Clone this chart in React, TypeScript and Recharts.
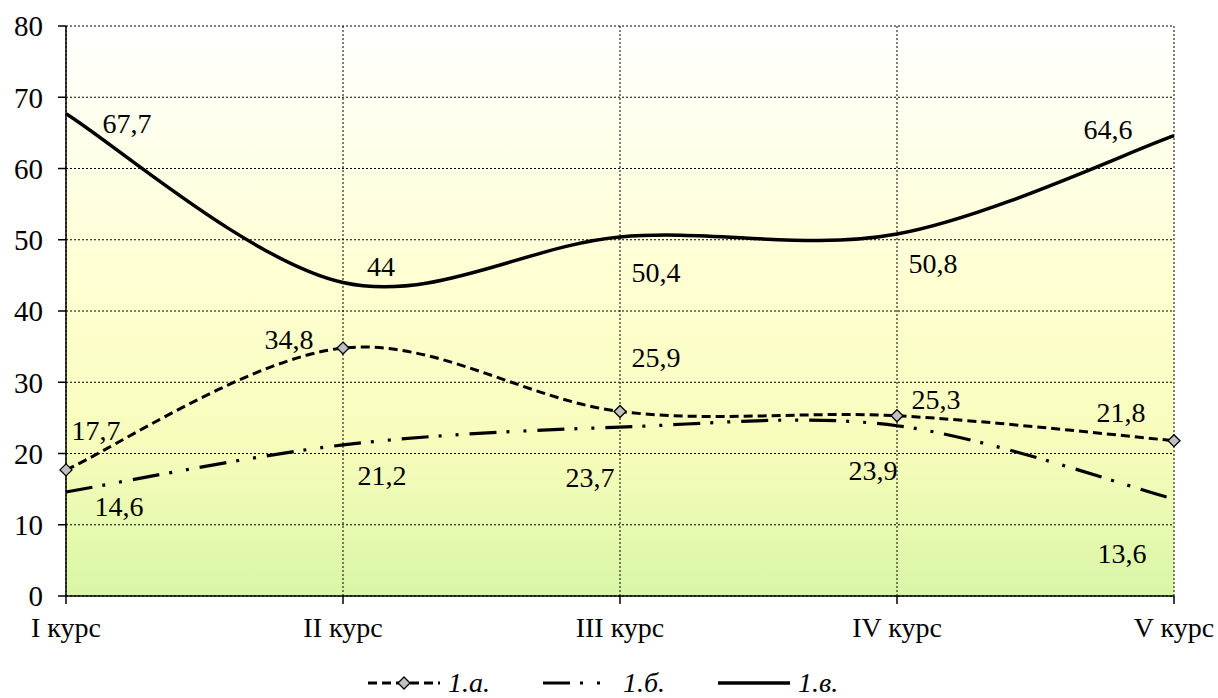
import React from 'react';
import { LineChart, Line, XAxis, YAxis, CartesianGrid, Legend } from 'recharts';

// курсы
const courses = ['I курс', 'II курс', 'III курс', 'IV курс', 'V курс'];
const seriesA = [17.7, 34.8, 25.9, 25.3, 21.8]; // 1.а.
const seriesB = [14.6, 21.2, 23.7, 23.9, 13.6]; // 1.б.
const seriesC = [67.7, 44, 50.4, 50.8, 64.6]; // 1.в.
const yTicks = [0, 10, 20, 30, 40, 50, 60, 70, 80];
const legendNames = ['1.а.', '1.б.', '1.в.'];

const data = courses.map((c, i) => ({ course: c, a: seriesA[i], b: seriesB[i], c: seriesC[i] }));

// смещения подписей от точки
const offA = [[30, -39], [-54, -9], [36, -54], [39, -16], [-53, -28]];
const offB = [[53, 15], [39, 31], [-30, 50], [-24, 45], [-52, 54]];
const offC = [[61, 10], [38, -16], [36, 36], [36, 29], [-66, -6]];

const FONT = "'Liberation Serif', 'Times New Roman', serif";

// сглаживание как в Excel (Catmull-Rom)
const excelSmooth = (context: any) => {
  let pts: number[][] = [];
  return {
    areaStart() {},
    areaEnd() {},
    lineStart() { pts = []; },
    point(x: number, y: number) { pts.push([+x, +y]); },
    lineEnd() {
      if (!pts.length) return;
      context.moveTo(pts[0][0], pts[0][1]);
      for (let i = 0; i < pts.length - 1; i++) {
        const p0 = pts[i - 1] || pts[i];
        const p1 = pts[i];
        const p2 = pts[i + 1];
        const p3 = pts[i + 2] || p2;
        context.bezierCurveTo(
          p1[0] + (p2[0] - p0[0]) / 6, p1[1] + (p2[1] - p0[1]) / 6,
          p2[0] - (p3[0] - p1[0]) / 6, p2[1] - (p3[1] - p1[1]) / 6,
          p2[0], p2[1]
        );
      }
    },
  };
};

const makeLabel = (offsets: number[][]) => (props: any) => {
  const { x, y, value, index } = props;
  const [dx, dy] = offsets[index] || [0, 0];
  return (
    <text x={x + dx} y={y + dy} textAnchor="middle" dominantBaseline="central"
      fontFamily={FONT} fontSize={28} fill="#000">
      {String(value).replace('.', ',')}
    </text>
  );
};

const Diamond = (props: any) => {
  const { cx, cy } = props;
  if (cx == null || cy == null) return null;
  const s = 6;
  return (
    <path d={`M${cx},${cy - s}L${cx + s},${cy}L${cx},${cy + s}L${cx - s},${cy}Z`}
      fill="#C0C0C0" stroke="#000" strokeWidth={1.3} />
  );
};

const LegendContent = () => {
  const item = (i: number) => {
    let sample;
    if (i === 0) {
      sample = (
        <svg width={72} height={30}>
          <line x1={0} y1={15} x2={72} y2={15} stroke="#000" strokeWidth={3} strokeDasharray="9 5" />
          <path d="M36,9L42,15L36,21L30,15Z" fill="#C0C0C0" stroke="#000" strokeWidth={1.3} />
        </svg>
      );
    } else if (i === 1) {
      sample = (
        <svg width={72} height={30}>
          <line x1={0} y1={15} x2={72} y2={15} stroke="#000" strokeWidth={3.2} strokeDasharray="27 10 3 14 3 20" />
        </svg>
      );
    } else {
      sample = (
        <svg width={72} height={30}>
          <line x1={0} y1={15} x2={72} y2={15} stroke="#000" strokeWidth={3.5} />
        </svg>
      );
    }
    return (
      <div key={i} style={{ display: 'flex', alignItems: 'center', width: 175 }}>
        {sample}
        <span style={{ marginLeft: 8, fontStyle: 'italic', fontSize: 28, fontFamily: FONT, lineHeight: '30px' }}>
          {legendNames[i]}
        </span>
      </div>
    );
  };
  return (
    <div style={{ display: 'flex', height: 30, paddingLeft: 368 }}>
      {[0, 1, 2].map(item)}
    </div>
  );
};

export default function App() {
  return (
    <div style={{ position: 'absolute', left: 0, top: 0, width: 1218, height: 698, fontFamily: FONT }}>
      <LineChart width={1218} height={698} data={data}
        margin={{ top: 26, right: 44, left: 0, bottom: 0 }}>
        <defs>
          <linearGradient id="bg" x1="0" y1="0" x2="0" y2="1">
            <stop offset="0%" stopColor="#FFFFFF" />
            <stop offset="45%" stopColor="#FFFFD2" />
            <stop offset="75%" stopColor="#F6FCBA" />
            <stop offset="100%" stopColor="#D8F6A6" />
          </linearGradient>
        </defs>
        <CartesianGrid stroke="#000" strokeDasharray="2 2" strokeWidth={1} fill="url(#bg)" fillOpacity={1} />
        <XAxis dataKey="course" scale="point" padding={{ left: 0, right: 0 }} height={72}
          tickSize={8} tickMargin={13} axisLine={{ stroke: '#000', strokeWidth: 1.5 }}
          tickLine={{ stroke: '#000', strokeWidth: 1.5 }}
          tick={{ fill: '#000', fontSize: 28, fontFamily: FONT }} interval={0} />
        <YAxis domain={[0, 80]} ticks={yTicks} width={66} tickSize={8} tickMargin={15}
          axisLine={{ stroke: '#000', strokeWidth: 1.5 }} tickLine={{ stroke: '#000', strokeWidth: 1.5 }}
          tick={{ fill: '#000', fontSize: 29, fontFamily: FONT }} />
        <Legend verticalAlign="bottom" content={<LegendContent />} />
        <Line dataKey="c" type={excelSmooth as any} stroke="#000" strokeWidth={3.5} dot={false}
          isAnimationActive={false} label={makeLabel(offC)} />
        <Line dataKey="b" type={excelSmooth as any} stroke="#000" strokeWidth={3.2}
          strokeDasharray="27 10 3 14 3 11" dot={false} isAnimationActive={false} label={makeLabel(offB)} />
        <Line dataKey="a" type={excelSmooth as any} stroke="#000" strokeWidth={3} strokeDasharray="9 5"
          dot={<Diamond />} isAnimationActive={false} label={makeLabel(offA)} />
      </LineChart>
    </div>
  );
}
